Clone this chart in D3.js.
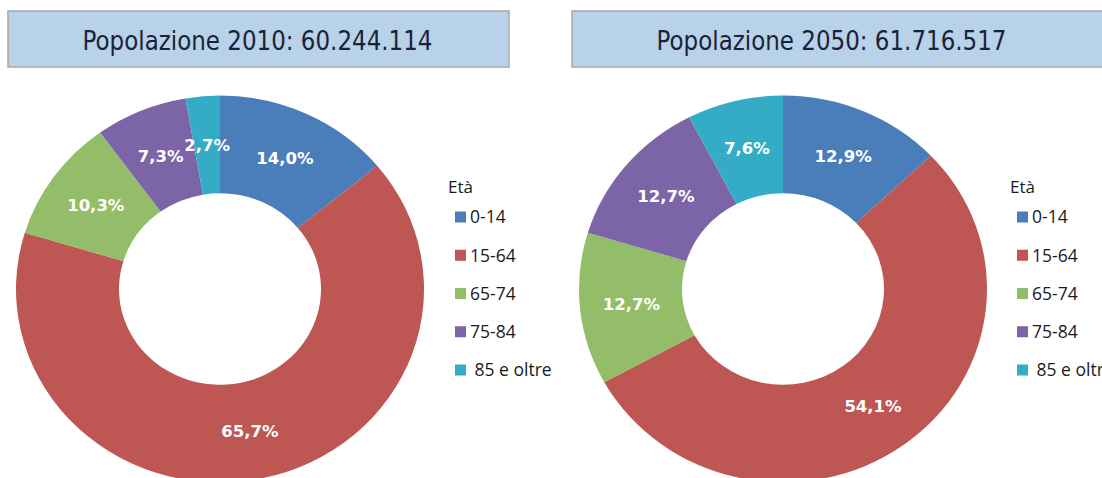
<!DOCTYPE html>
<html>
<head>
<meta charset="utf-8">
<script src="https://cdn.jsdelivr.net/npm/d3@7"></script>
<style>
  html, body { margin: 0; padding: 0; background: #fff; }
  svg { display: block; }
</style>
</head>
<body>
<div id="chart"></div>
<script>
const categories = ["0-14", "15-64", "65-74", "75-84", " 85 e oltre"];
const colors = ["#4a7ebb", "#be5653", "#93bd68", "#7b65a7", "#35acc6"];
const values2010 = [14.0, 65.7, 10.3, 7.3, 2.7];
const values2050 = [12.9, 54.1, 12.7, 12.7, 7.6];
const titles = ["Popolazione 2010: 60.244.114", "Popolazione 2050: 61.716.517"];
const legendTitle = "Età";

const W = 1102, H = 478;
const svg = d3.select("#chart").append("svg")
  .attr("width", W).attr("height", H);

const panels = [
  { title: titles[0], values: values2010, box: [8, 11, 501, 56], tx: 257.5, cx: 220, cy: 289, legendX: 448 },
  { title: titles[1], values: values2050, box: [572, 11, 540, 56], tx: 831.5, cx: 783, cy: 289, legendX: 1010 }
];

const outerR = 204, innerR = 101, squash = 0.948;
const fmt = v => v.toFixed(1).replace(".", ",") + "%";

const pie = d3.pie().sort(null).value(d => d);
const arc = d3.arc().innerRadius(innerR).outerRadius(outerR);

panels.forEach(p => {
  // Titolo
  svg.append("rect")
    .attr("x", p.box[0]).attr("y", p.box[1])
    .attr("width", p.box[2]).attr("height", p.box[3])
    .attr("fill", "#b8d2ea")
    .attr("stroke", "#a8a8a8")
    .attr("stroke-width", 1.5);

  svg.append("text")
    .attr("x", p.tx).attr("y", 50)
    .attr("text-anchor", "middle")
    .attr("font-family", "DejaVu Sans, Verdana, sans-serif")
    .attr("font-size", 26)
    .attr("fill", "#1c2236")
    .attr("textLength", 350)
    .attr("lengthAdjust", "spacingAndGlyphs")
    .text(p.title);

  // Ciambella
  const arcs = pie(p.values);
  const g = svg.append("g")
    .attr("transform", `translate(${p.cx},${p.cy}) scale(1,${squash})`);

  g.selectAll("path")
    .data(arcs)
    .enter()
    .append("path")
    .attr("d", arc)
    .attr("fill", (d, i) => colors[i]);

  svg.append("g")
    .selectAll("text")
    .data(arcs)
    .enter()
    .append("text")
    .attr("x", d => p.cx + arc.centroid(d)[0])
    .attr("y", d => p.cy + arc.centroid(d)[1] * squash)
    .attr("dy", "0.36em")
    .attr("text-anchor", "middle")
    .attr("font-family", "DejaVu Sans, Verdana, sans-serif")
    .attr("font-weight", "bold")
    .attr("font-size", 16.5)
    .attr("fill", "#ffffff")
    .text(d => fmt(d.data));

  // Legenda
  const lg = svg.append("g");
  lg.append("text")
    .attr("x", p.legendX).attr("y", 193)
    .attr("font-family", "Open Sans, sans-serif")
    .attr("font-size", 17)
    .attr("fill", "#1a1a1a")
    .text(legendTitle);

  const ly = d3.scalePoint().domain(categories).range([217, 370]);
  const items = lg.selectAll("g.item")
    .data(categories)
    .enter()
    .append("g")
    .attr("class", "item")
    .attr("transform", d => `translate(${p.legendX + 7},${ly(d)})`);

  items.append("rect")
    .attr("x", 0).attr("y", -5.5)
    .attr("width", 11).attr("height", 11)
    .attr("fill", (d, i) => colors[i]);

  items.append("text")
    .attr("x", 15).attr("y", 0)
    .attr("dy", "0.36em")
    .attr("font-family", "Open Sans, sans-serif")
    .attr("font-size", 17.5)
    .attr("fill", "#1a1a1a")
    .style("white-space", "pre")
    .text(d => d);
});
</script>
</body>
</html>
